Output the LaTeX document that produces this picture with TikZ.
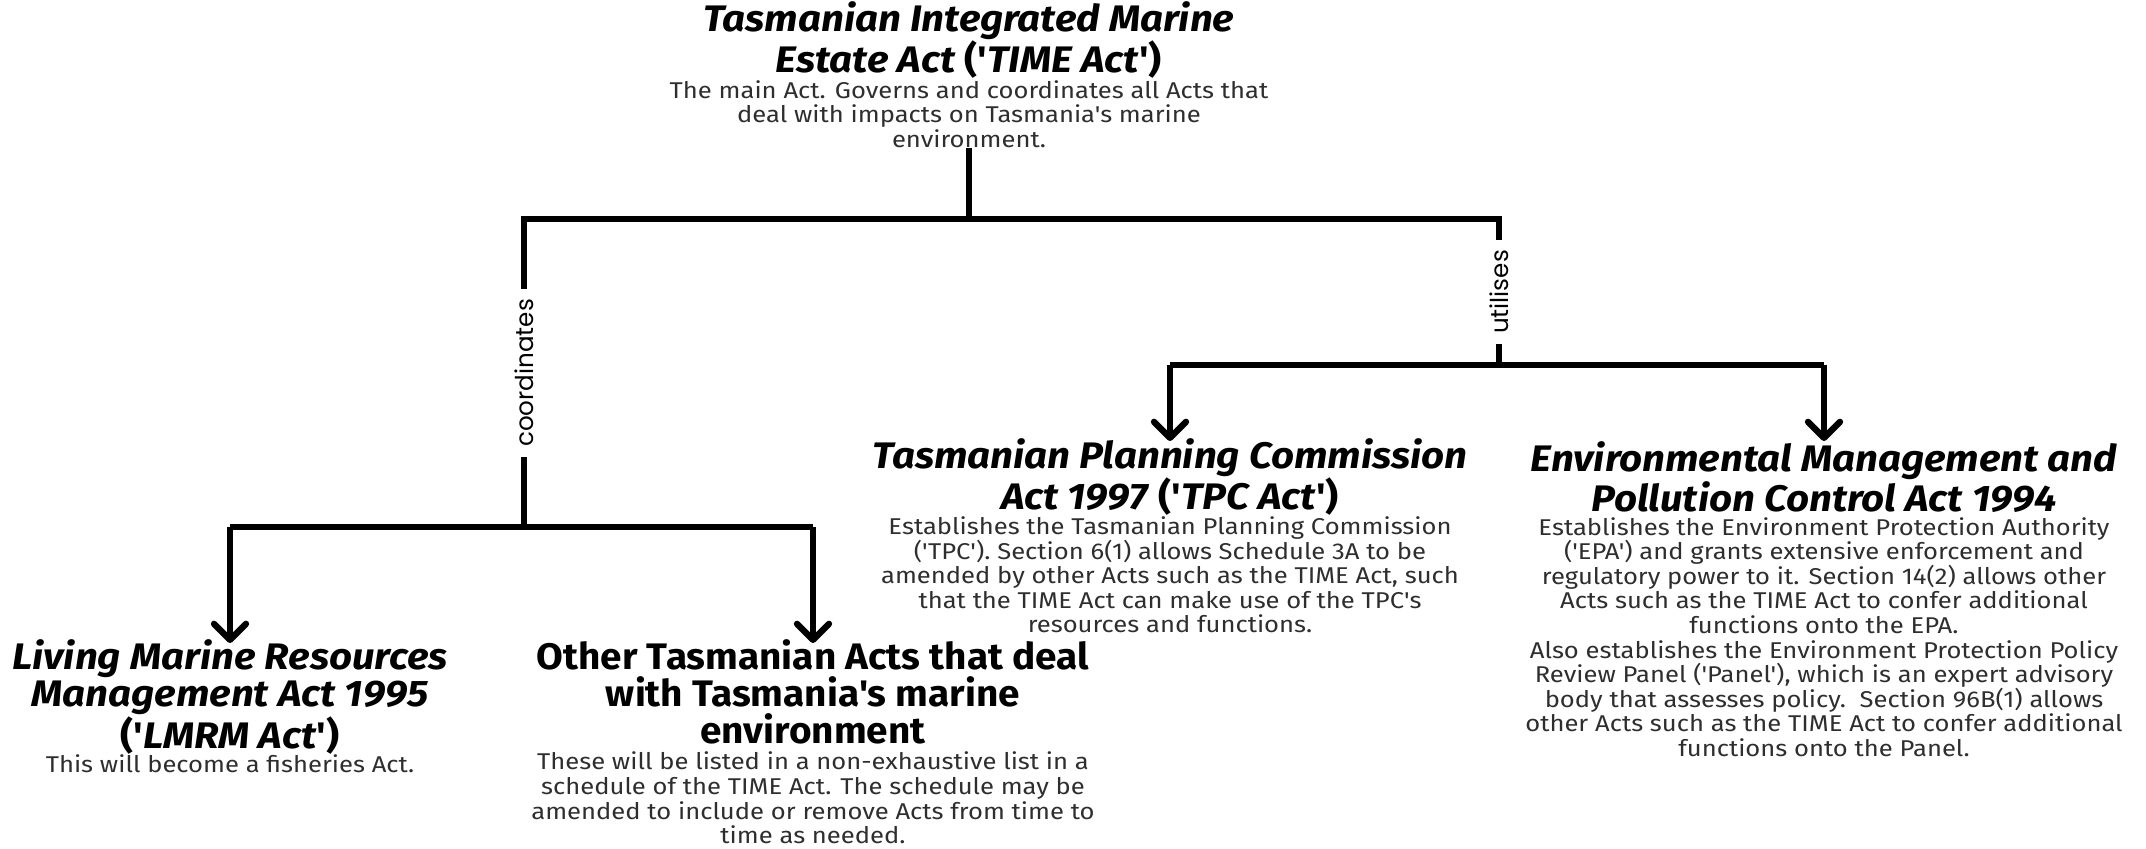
\documentclass[tikz,border=0pt]{standalone}
\usepackage{fontspec}
\setmainfont{Fira Sans}[Ligatures=TeXOff]
\newfontfamily\headfont{Fira Sans}[Ligatures=TeXOff, FakeStretch=1.09]
\newfontfamily\plainheadfont{Fira Sans}[Ligatures=TeXOff, FakeStretch=1.05]
\newfontfamily\bodyfont{Fira Sans}[Ligatures=TeXOff, FakeStretch=1.12]
\newfontfamily\labelfont{Poppins}[Ligatures=TeXOff]
\usetikzlibrary{arrows.meta}
\begin{document}
\begin{tikzpicture}[
        x=0.2mm, y=-0.2mm,
        head/.style={align=center, inner sep=0pt, font=\headfont\fontsize{21}{21}\selectfont\bfseries\itshape},
        plainhead/.style={head, font=\plainheadfont\fontsize{21}{21}\selectfont\bfseries},
        body/.style={align=center, inner sep=0pt, text=black!82, font=\bodyfont\fontsize{13}{14}\selectfont},
        link/.style={line width=3.6pt},
        arrow/.style={link, -{Straight Barb[length=3.2mm, width=6.4mm, round]}},
        rel/.style={fill=white, rotate=90, inner xsep=2mm, inner ysep=1pt, font=\labelfont\fontsize{14}{14}\selectfont}
    ]
    \useasboundingbox (0,0) rectangle (2146,848);
    % Acts
    \node[head] (timeT) at (969,40) {Tasmanian Integrated Marine\\Estate Act \textup{('}TIME Act\textup{')}};
    \node[body] (timeB) at (969,114) {The main Act. Governs and coordinates all Acts that\\deal with impacts on Tasmania's marine\\environment.};
    \node[head] (tpcT) at (1170,477) {Tasmanian Planning Commission\\Act 1997 \textup{('}TPC Act\textup{')}};
    \node[body] (tpcB) at (1170,575) {Establishes the Tasmanian Planning Commission\\('TPC'). Section 6(1) allows Schedule 3A to be\\amended by other Acts such as the TIME Act, such\\that the TIME Act can make use of the TPC's\\resources and functions.};
    \node[head] (empcT) at (1824,477) {Environmental Management and\\Pollution Control Act 1994};
    \node[body] (empcB) at (1824,637) {Establishes the Environment Protection Authority\\('EPA') and grants extensive enforcement and\\regulatory power to it. Section 14(2) allows other\\Acts such as the TIME Act to confer additional\\functions onto the EPA.\\Also establishes the Environment Protection Policy\\Review Panel ('Panel'), which is an expert advisory\\body that assesses policy.\ \ Section 96B(1) allows\\other Acts such as the TIME Act to confer additional\\functions onto the Panel.};
    \node[head] (lmrmT) at (230,697) {Living Marine Resources\\Management Act 1995\\\textup{('}LMRM Act\textup{')}};
    \node[body] (lmrmB) at (230,764) {This will become a fisheries Act.};
    \node[plainhead] (otherT) at (813,692) {Other Tasmanian Acts that deal\\with Tasmania's marine\\environment};
    \node[body] (otherB) at (813,798) {These will be listed in a non-exhaustive list in a\\schedule of the TIME Act. The schedule may be\\amended to include or remove Acts from time to\\time as needed.};
    % Junctions
    \coordinate (jTop) at (969,219);
    \coordinate (jL) at (524,219);
    \coordinate (jR) at (1499,219);
    \coordinate (jLL) at (524,527);
    \coordinate (jRR) at (1499,365);
    \coordinate (tipL) at (0,643);
    \coordinate (tipR) at (0,441);
    % Edges
    \draw[link] (timeB.south) -- (jTop);
    \draw[link] (jLL) -- node[rel] {coordinates} (jL) -- (jR) -- node[rel] {utilises} (jRR);
    \draw[link] (lmrmT.north |- jLL) -- (otherT.north |- jLL);
    \draw[link] (tpcT.north |- jRR) -- (empcT.north |- jRR);
    \draw[arrow] (lmrmT.north |- jLL) -- (lmrmT.north |- tipL);
    \draw[arrow] (otherT.north |- jLL) -- (otherT.north |- tipL);
    \draw[arrow] (tpcT.north |- jRR) -- (tpcT.north |- tipR);
    \draw[arrow] (empcT.north |- jRR) -- (empcT.north |- tipR);
\end{tikzpicture}
\end{document}
